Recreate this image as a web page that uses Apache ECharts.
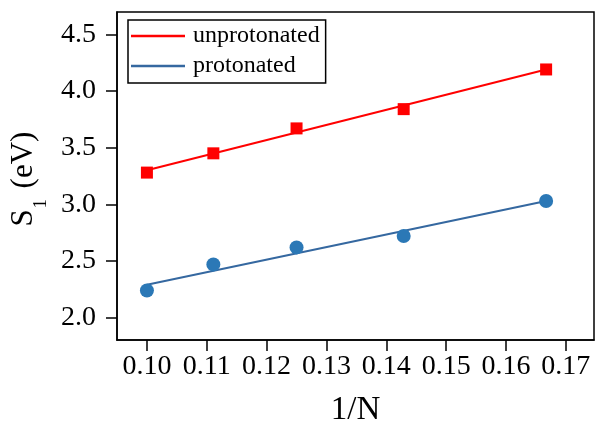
<!DOCTYPE html>
<html>
<head>
<meta charset="utf-8">
<script src="https://cdn.jsdelivr.net/npm/echarts@6/dist/echarts.min.js"></script>
<style>
html,body{margin:0;padding:0;background:#fff;}
#chart{width:595px;height:423px;}
</style>
</head>
<body>
<div id="chart"></div>
<script>
// Data
const invN = [0.1, 0.1111, 0.125, 0.1429, 0.1667];
const unprotonated = [3.28, 3.45, 3.67, 3.84, 4.19];
const protonated = [2.24, 2.47, 2.62, 2.72, 3.03];
const fitX = [0.1, 0.1667];
const unprotonatedFit = [3.30, 4.19];
const protonatedFit = [2.29, 3.03];
const xTicks = [0.10, 0.11, 0.12, 0.13, 0.14, 0.15, 0.16, 0.17];
const yTicks = [2.0, 2.5, 3.0, 3.5, 4.0, 4.5];

const FONT = '"Liberation Serif", "DejaVu Serif", serif';
const RED = '#ff0000';
const BLUE_PT = '#2b78b6';
const BLUE_LINE = '#3568a0';

const pair = (xs, ys) => xs.map((x, i) => [x, ys[i]]);

const chart = echarts.init(document.getElementById('chart'), null, {renderer: 'canvas'});
chart.setOption({
  animation: false,
  backgroundColor: '#fff',
  grid: {left: 117, right: 1, top: 12, bottom: 83, show: true, borderColor: '#000', borderWidth: 1.5,
         containLabel: false, outerBoundsMode: 'none'},
  legend: {
    data: ['unprotonated', 'protonated'],
    orient: 'vertical',
    left: 128, top: 20,
    icon: 'rect', itemWidth: 54, itemHeight: 2.5, itemGap: 6,
    padding: [4, 6, 5, 3],
    borderColor: '#000', borderWidth: 1.5,
    textStyle: {fontFamily: FONT, fontSize: 24, color: '#000', padding: [0,0,0,3]}
  },
  xAxis: {
    type: 'value', min: 0.095, max: 0.1747,
    name: '1/N', nameLocation: 'middle', nameGap: 54,
    nameTextStyle: {fontFamily: FONT, fontSize: 33, color: '#000'},
    axisLine: {show: true, lineStyle: {color: '#000', width: 1.5}},
    axisTick: {show: true, inside: false, length: 11, lineStyle: {color: '#000', width: 1.5}, customValues: xTicks},
    axisLabel: {fontFamily: FONT, fontSize: 28, color: '#000', margin: 13, customValues: xTicks, formatter: v => v.toFixed(2)},
    splitLine: {show: false}
  },
  yAxis: {
    type: 'value', min: 1.803, max: 4.697,
    name: '{a|S}{s|1}{a| (eV)}', nameLocation: 'middle', nameGap: 57, nameRotate: 90,
    nameTextStyle: {
      fontFamily: FONT, fontSize: 31, color: '#000', padding: [0, 6, 0, 0],
      rich: {
        a: {fontFamily: FONT, fontSize: 31, color: '#000', lineHeight: 34, verticalAlign: 'top'},
        s: {fontFamily: FONT, fontSize: 18, color: '#000', lineHeight: 15, verticalAlign: 'top', padding: [24, 3, 0, 1]}
      }
    },
    axisLine: {show: true, lineStyle: {color: '#000', width: 1.5}},
    axisTick: {show: true, inside: false, length: 11, lineStyle: {color: '#000', width: 1.5}, customValues: yTicks},
    axisLabel: {fontFamily: FONT, fontSize: 28, color: '#000', margin: 21, customValues: yTicks, formatter: v => v.toFixed(1)},
    splitLine: {show: false}
  },
  series: [
    {name: 'unprotonated', type: 'line', data: pair(fitX, unprotonatedFit), showSymbol: false, symbol: 'none',
     lineStyle: {color: RED, width: 2}, itemStyle: {color: RED}, z: 2, silent: true},
    {name: 'protonated', type: 'line', data: pair(fitX, protonatedFit), showSymbol: false, symbol: 'none',
     lineStyle: {color: BLUE_LINE, width: 2}, itemStyle: {color: BLUE_LINE}, z: 2, silent: true},
    {name: 'unprotonated data', type: 'scatter', data: pair(invN, unprotonated), symbol: 'rect', symbolSize: 12,
     itemStyle: {color: RED, opacity: 1}, z: 3, silent: true},
    {name: 'protonated data', type: 'scatter', data: pair(invN, protonated), symbol: 'circle', symbolSize: 14,
     itemStyle: {color: BLUE_PT, opacity: 1}, z: 3, silent: true}
  ]
});
</script>
</body>
</html>
